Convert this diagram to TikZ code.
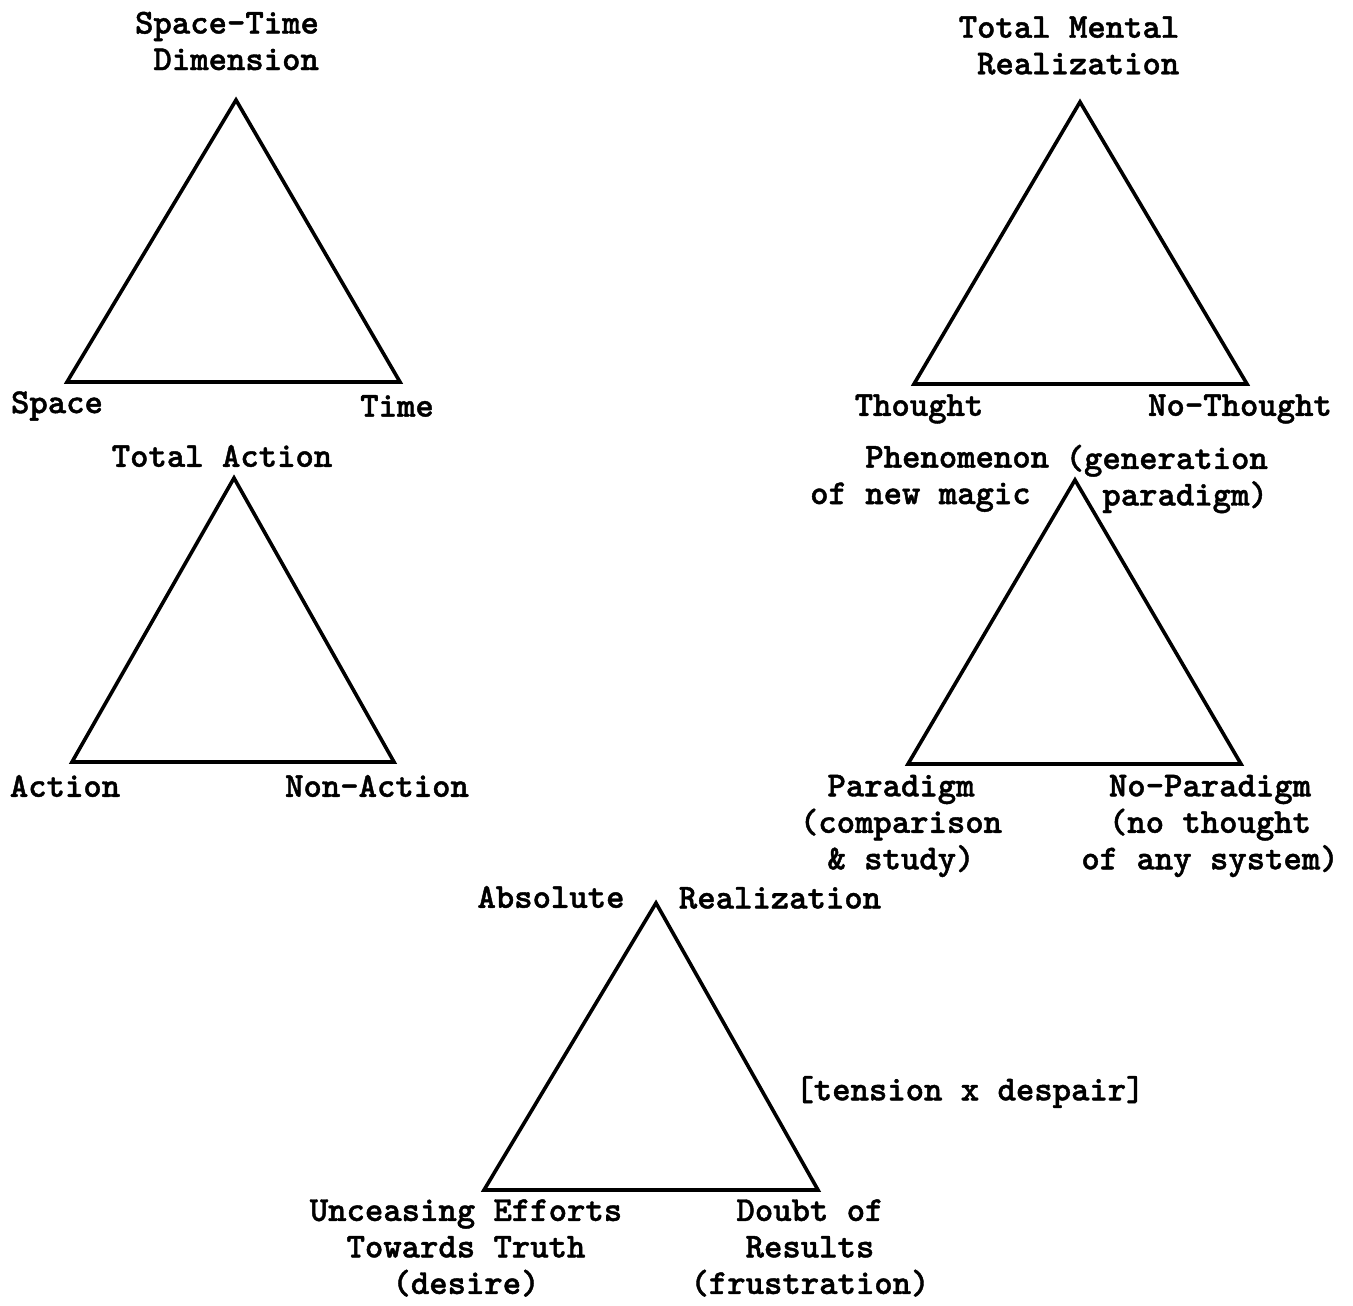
\documentclass[tikz,border=0pt]{standalone}
\usepackage{fontspec}
\newfontfamily\typew{lmmonolt10-bold.otf}[FakeBold=1.2]
\begin{document}
\begin{tikzpicture}[x=1pt,y=-1pt,
  tri/.style={draw=black,line width=3.6pt,line join=miter},
  lbl/.style={font=\typew\fontsize{35}{36.5}\selectfont,inner sep=0pt,align=center,text=black}]
\useasboundingbox (0,0) rectangle (1353,1306);
% triangles
\coordinate (a1) at (236,100); \coordinate (b1) at (67,382); \coordinate (c1) at (400,382);
\coordinate (a2) at (1080,102); \coordinate (b2) at (914,384); \coordinate (c2) at (1247,384);
\coordinate (a3) at (234,478); \coordinate (b3) at (72,762); \coordinate (c3) at (394,762);
\coordinate (a4) at (1075,480); \coordinate (b4) at (908,764); \coordinate (c4) at (1241,764);
\coordinate (a5) at (656,903); \coordinate (b5) at (484,1190); \coordinate (c5) at (818,1190);
\draw[tri] (a1) -- (b1) -- (c1) -- cycle;
\draw[tri] (a2) -- (b2) -- (c2) -- cycle;
\draw[tri] (a3) -- (b3) -- (c3) -- cycle;
\draw[tri] (a4) -- (b4) -- (c4) -- cycle;
\draw[tri] (a5) -- (b5) -- (c5) -- cycle;
% labels
\node[lbl,align=left] (st) at (227,41) {Space-Time\\\hspace*{0.525em}Dimension};
\node[lbl] (space) at (57,406) {Space};
\node[lbl] (time) at (397,406) {Time};
\node[lbl,align=left] (tm) at (1069,45.5) {Total Mental\\\hspace*{0.525em}Realization};
\node[lbl] (thought) at (919,409) {Thought};
\node[lbl] (nothought) at (1240,409) {No-Thought};
\node[lbl] (ta) at (222,456) {Total Action};
\node[lbl] (action) at (65,786) {Action};
\node[lbl] (nonaction) at (377,786) {Non-Action};
\node[lbl,align=left,anchor=west] (phen) at (810,479) {\hspace*{1.575em}Phenomenon\\of new magic};
\node[lbl,align=right,anchor=east] (gen) at (1268,479) {(generation\\paradigm)};
\node[lbl] (paradigm) at (901,826) {Paradigm\\(comparison\\\& study)};
\node[lbl] (noparadigm) at (1210,826) {No-Paradigm\\(no thought\\of any system)};
\node[lbl] (absolute) at (551,897) {Absolute};
\node[lbl] (realization) at (780,898) {Realization};
\node[lbl] (tension) at (970,1092) {[tension x despair]};
\node[lbl] (unceasing) at (466,1248) {Unceasing Efforts\\Towards Truth\\(desire)};
\node[lbl] (doubt) at (810,1248) {Doubt of\\Results\\(frustration)};
\end{tikzpicture}
\end{document}
